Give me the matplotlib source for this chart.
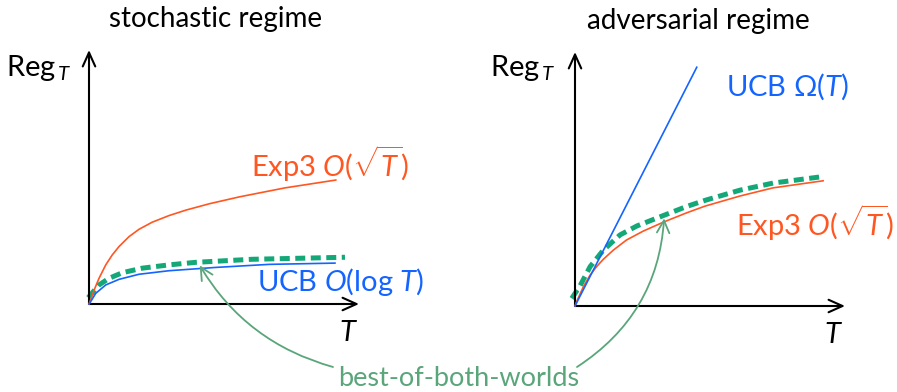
import matplotlib
matplotlib.use("Agg")
import matplotlib.pyplot as plt

plt.rcParams["font.family"] = ["Lato", "DejaVu Sans"]
plt.rcParams["mathtext.fontset"] = "custom"
plt.rcParams["mathtext.rm"] = "Lato"
plt.rcParams["mathtext.it"] = "Lato:italic"
plt.rcParams["mathtext.sf"] = "Lato"

# curves, axes units 0..10 (T, Reg_T)
sto_exp3_t = [0, 0.06, 0.19, 0.37, 0.62, 0.86, 1.11, 1.48, 1.85, 2.34, 2.96, 3.60, 4.47, 5.58, 7.25, 9.14]
sto_exp3_r = [0, 0.16, 0.55, 1.01, 1.54, 1.93, 2.26, 2.65, 2.94, 3.22, 3.48, 3.70, 3.95, 4.22, 4.57, 4.88]
sto_ucb_t = [0, 0.06, 0.25, 0.62, 1.11, 1.85, 2.96, 4.69, 6.67, 9.11]
sto_ucb_r = [0, 0.09, 0.42, 0.75, 0.97, 1.17, 1.31, 1.44, 1.56, 1.61]
sto_bobw_t = [-0.03, 0.37, 0.74, 1.23, 1.97, 2.96, 3.95, 6.03, 9.48]
sto_bobw_r = [0.25, 0.75, 1.01, 1.23, 1.41, 1.54, 1.64, 1.76, 1.84]

adv_ucb_t = [0, 4.51]
adv_ucb_r = [0, 9.40]
adv_exp3_t = [0, 0.06, 0.31, 0.56, 0.80, 1.05, 1.42, 1.91, 2.53, 3.27, 4.14, 4.81, 6.11, 7.33, 9.19]
adv_exp3_r = [0, 0.17, 0.76, 1.22, 1.55, 1.84, 2.20, 2.60, 2.95, 3.30, 3.67, 3.93, 4.33, 4.65, 4.93]
adv_bobw_t = [-0.12, 0.19, 0.56, 1.05, 1.67, 2.29, 3.27, 4.14, 4.85, 6.11, 7.34, 9.14]
adv_bobw_r = [0.30, 0.80, 1.55, 2.20, 2.80, 3.15, 3.56, 3.92, 4.17, 4.56, 4.84, 5.09]

RED = "#ff5722"
BLUE = "#1464ff"
GREEN = "#14a878"
NOTE = "#5aa57a"
FS = 21

W, H = 897, 392
fig = plt.figure(figsize=(W / 100, H / 100), dpi=100)


def px(x, y):
    return x / W, 1 - y / H


def make_axes(x0, y0):
    ax = fig.add_axes([x0 / W, (H - y0) / H, 270 / W, 254 / H])
    ax.set_xlim(0, 10)
    ax.set_ylim(0, 10)
    ax.axis("off")
    arrow = dict(arrowstyle="->,head_length=1.0,head_width=0.45", lw=1.5,
                 color="black", shrinkA=0, shrinkB=0)
    ax.annotate("", xy=(1, 0), xytext=(0, 0), xycoords="axes fraction", arrowprops=arrow)
    ax.annotate("", xy=(0, 1), xytext=(0, 0), xycoords="axes fraction", arrowprops=arrow)
    return ax


axl = make_axes(89, 304)
axr = make_axes(575, 306)

dash = dict(color=GREEN, lw=3.6, linestyle=(0, (2, 1.1)), clip_on=False,
            solid_capstyle="butt", dash_capstyle="butt")

axl.plot(sto_bobw_t, sto_bobw_r, zorder=2, **dash)
axl.plot(sto_exp3_t, sto_exp3_r, color=RED, lw=1.2, clip_on=False, zorder=3)
axl.plot(sto_ucb_t, sto_ucb_r, color=BLUE, lw=1.2, clip_on=False, zorder=3)

axr.plot(adv_bobw_t, adv_bobw_r, zorder=2, **dash)
axr.plot(adv_exp3_t, adv_exp3_r, color=RED, lw=1.2, clip_on=False, zorder=3)
axr.plot(adv_ucb_t, adv_ucb_r, color=BLUE, lw=1.2, clip_on=False, zorder=3)

# titles and labels
fig.text(*px(216, 19), "stochastic regime", fontsize=20, ha="center", va="center")
fig.text(*px(698, 21), "adversarial regime", fontsize=20, ha="center", va="center")
for x in (39, 523):
    fig.text(*px(x, 68), r"Reg$_{\,T}$", fontsize=FS, ha="center", va="center")
fig.text(*px(348, 333), r"$T$", fontsize=FS, ha="center", va="center")
fig.text(*px(833, 335), r"$T$", fontsize=FS, ha="center", va="center")

fig.text(*px(330, 164), r"Exp3 $O(\sqrt{T})$", fontsize=FS, color=RED, ha="center", va="center")
fig.text(*px(341, 282), r"UCB $O(\log\,T)$", fontsize=FS, color=BLUE, ha="center", va="center")
fig.text(*px(787, 87), r"UCB $\Omega(T)$", fontsize=FS, color=BLUE, ha="center", va="center")
fig.text(*px(815, 223), r"Exp3 $O(\sqrt{T})$", fontsize=FS, color=RED, ha="center", va="center")

fig.text(*px(459, 378), "best-of-both-worlds", fontsize=19.5, color=NOTE, ha="center", va="center")
note_arrow = dict(arrowstyle="->,head_length=0.9,head_width=0.45", lw=1.3, color=NOTE,
                  shrinkA=0, shrinkB=0)
axl.annotate("", xy=(4.1, 1.52), xytext=px(333, 367), textcoords="figure fraction",
             arrowprops=dict(connectionstyle="arc3,rad=-0.2", **note_arrow))
axr.annotate("", xy=(3.3, 3.45), xytext=px(577, 367), textcoords="figure fraction",
             arrowprops=dict(connectionstyle="arc3,rad=0.25", **note_arrow))

fig.savefig("out.png", dpi=100)
